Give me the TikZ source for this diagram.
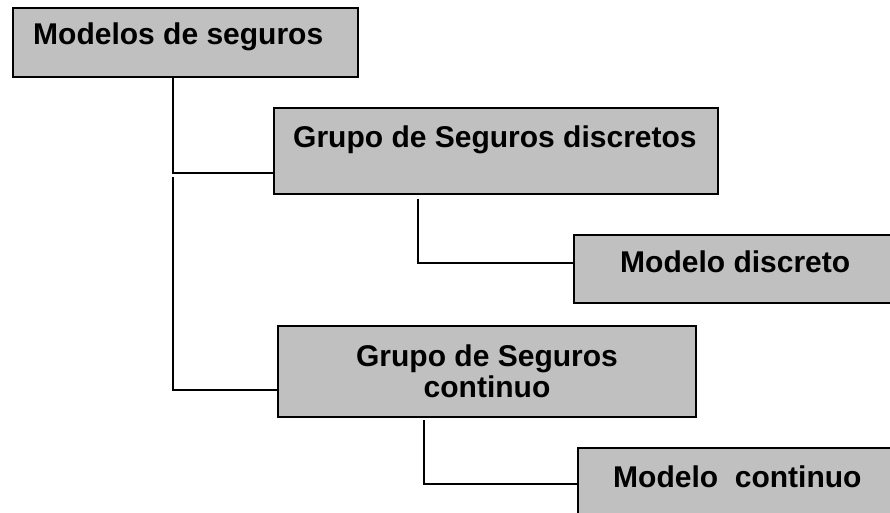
\documentclass[tikz,border=0pt]{standalone}
\usepackage{fontspec}
\setmainfont{Liberation Sans}
\usepackage{tikz}
\usetikzlibrary{positioning, calc}
\definecolor{boxgray}{RGB}{192, 192, 192}

\begin{document}
\begin{tikzpicture}[x=1pt, y=-1pt,
  box/.style={rectangle, draw=black, line width=2pt, fill=boxgray, anchor=north west, inner sep=0pt},
  lbl/.style={font=\fontsize{30}{31}\selectfont\bfseries, inner sep=0pt},
  link/.style={-, line width=1.8pt, black}]
\useasboundingbox (0,0) rectangle (890,513);
\clip (0,0) rectangle (890,513);
% boxes
\node[box, minimum width=345pt, minimum height=69pt] (ms) at (12,7) {};
\node[box, minimum width=444pt, minimum height=86pt] (gd) at (273,107) {};
\node[box, minimum width=330pt, minimum height=68pt] (md) at (573,234) {};
\node[box, minimum width=418pt, minimum height=91pt] (gc) at (277,325) {};
\node[box, minimum width=330pt, minimum height=80pt] (mc) at (577,447) {};
% texts
\node[lbl, anchor=base west] (ms-t) at (33,45) {Modelos de seguros};
\node[lbl, anchor=base west] (gd-t) at (293,147) {Grupo de Seguros discretos};
\node[lbl, anchor=base west] (md-t) at (620,272) {Modelo discreto};
\node[lbl, anchor=base, align=center] (gc-t) at (487,397) {Grupo de Seguros\\continuo};
\node[lbl, anchor=base west] (mc-t) at (613,487) {Modelo\ \ continuo};
% joints
\coordinate (j1) at (173,173);
\coordinate (j2) at (173,177);
\coordinate (j3) at (173,390);
\coordinate (j4) at (418,263);
\coordinate (j5) at (424,484);
% connectors
\draw[link] (ms.south -| j1) -- (j1) -- (gd.west |- j1);
\draw[link] (j2) -- (j3) -- (gc.west |- j3);
\draw[link] ([yshift=-4pt]gd.south -| j4) -- (j4) -- (md.west |- j4);
\draw[link] ([yshift=-2pt]gc.south -| j5) -- (j5) -- (mc.west |- j5);
\end{tikzpicture}
\end{document}
